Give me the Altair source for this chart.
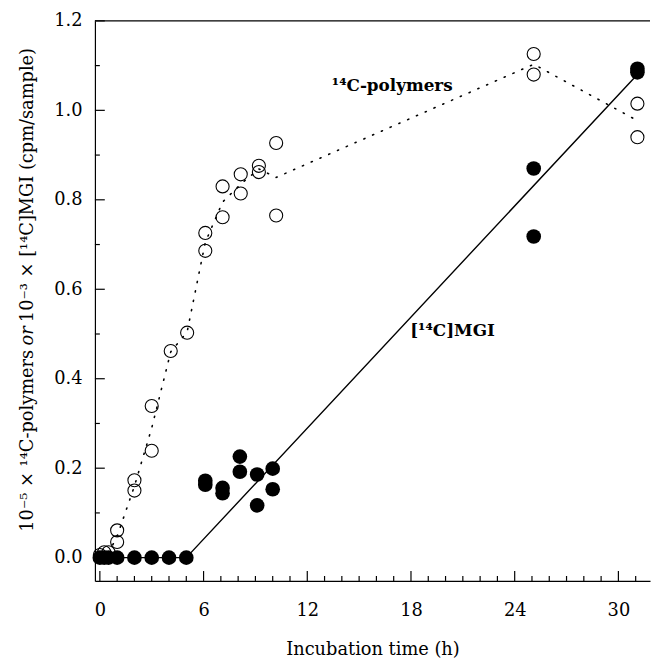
import altair as alt
import pandas as pd

# ---------------- data ----------------
poly_x = [0, 0.25, 0.5, 1, 1, 2, 2, 3, 3, 4.1, 5.05, 6.1, 6.1, 7.1, 7.1,
          8.15, 8.15, 9.2, 9.2, 10.2, 10.2, 25.1, 25.1, 31.1, 31.1]
poly_y = [0.006, 0.012, 0.012, 0.061, 0.035, 0.173, 0.150, 0.339, 0.239, 0.462,
          0.503, 0.726, 0.686, 0.830, 0.761, 0.857, 0.814, 0.876, 0.862,
          0.927, 0.765, 1.126, 1.080, 1.015, 0.940]

mgi_x = [0, 0.25, 0.5, 1, 2, 3, 4, 5, 6.1, 6.1, 7.1, 7.1, 8.1, 8.1, 9.1, 9.1,
         10.0, 10.0, 25.1, 25.1, 31.1, 31.1]
mgi_y = [0, 0, 0, 0, 0, 0, 0, 0, 0.172, 0.163, 0.156, 0.144, 0.226, 0.192,
         0.186, 0.117, 0.199, 0.153, 0.870, 0.718, 1.085, 1.093]

poly_fit_x = [0, 0.5, 1, 2, 3, 4.1, 5.05, 6.1, 7.1, 8.15, 9.2, 10.2, 25.1, 31.1]
poly_fit_y = [0.0, 0.01, 0.048, 0.16, 0.29, 0.46, 0.505, 0.705, 0.795, 0.835,
              0.869, 0.850, 1.103, 0.977]

mgi_fit_x = [0, 5, 31.1]
mgi_fit_y = [0, 0, 1.08]

x_major = [0, 6, 12, 18, 24, 30]
x_minor = [h for h in range(1, 32) if h % 6 != 0]
y_major = [0.0, 0.2, 0.4, 0.6, 0.8, 1.0, 1.2]
y_minor = [0.1, 0.3, 0.5, 0.7, 0.9, 1.1]

x_title = "Incubation time (h)"
y_title_a = "10⁻⁵ × ¹⁴C-polymers"
y_title_or = "or"
y_title_b = "10⁻³ × [¹⁴C]MGI (cpm/sample)"
label_poly = "¹⁴C-polymers"
label_mgi = "[¹⁴C]MGI"

# ---------------- layout ----------------
W, H = 562, 567
FONT = "DejaVu Serif"

xs = alt.Scale(domain=[-0.286, 31.83], nice=False, zero=False)
ys = alt.Scale(domain=[-0.052, 1.2], nice=False, zero=False)

xaxis = alt.Axis(values=x_major, tickSize=0, labelPadding=21, grid=False,
                 title=x_title, titlePadding=22, titleFontSize=18,
                 titleFontWeight="normal", titleFont=FONT, labelFont=FONT,
                 labelFontSize=18, labelColor="black", titleColor="black",
                 domainColor="black", domainWidth=1.2)
yaxis = alt.Axis(values=y_major, format=".1f", tickSize=0, labelPadding=13,
                 grid=False, title=None, labelFont=FONT, labelFontSize=18,
                 labelColor="black", domainColor="black", domainWidth=1.2)

poly_df = pd.DataFrame({"x": poly_x, "y": poly_y})
mgi_df = pd.DataFrame({"x": mgi_x, "y": mgi_y})
pfit_df = pd.DataFrame({"x": poly_fit_x, "y": poly_fit_y})
mfit_df = pd.DataFrame({"x": mgi_fit_x, "y": mgi_fit_y})

X = alt.X("x:Q", scale=xs, axis=xaxis)
Y = alt.Y("y:Q", scale=ys, axis=yaxis)

pfit = alt.Chart(pfit_df).mark_line(color="black", strokeWidth=1.6,
                                    strokeDash=[1.2, 8.5], strokeCap="round").encode(x=X, y=Y)
mfit = alt.Chart(mfit_df).mark_line(color="black", strokeWidth=1.4).encode(x=X, y=Y)
pts_open = alt.Chart(poly_df).mark_point(shape="circle", size=175, filled=False,
                                         color="black", strokeWidth=1.1,
                                         opacity=1).encode(x=X, y=Y)
pts_fill = alt.Chart(mgi_df).mark_point(shape="circle", size=220, filled=True,
                                        color="black", opacity=1).encode(x=X, y=Y)

xmaj_df = pd.DataFrame({"x": x_major})
xmin_df = pd.DataFrame({"x": x_minor})
ymaj_df = pd.DataFrame({"y": y_major})
ymin_df = pd.DataFrame({"y": y_minor})

tx_major = alt.Chart(xmaj_df).mark_rule(color="black", strokeWidth=1.2).encode(
    x=alt.X("x:Q", scale=xs), y=alt.value(H), y2=alt.value(H - 10))
tx_minor = alt.Chart(xmin_df).mark_rule(color="black", strokeWidth=1.2).encode(
    x=alt.X("x:Q", scale=xs), y=alt.value(H), y2=alt.value(H - 5))
ty_major = alt.Chart(ymaj_df).mark_rule(color="black", strokeWidth=1.2).encode(
    y=alt.Y("y:Q", scale=ys), x=alt.value(0), x2=alt.value(10))
ty_minor = alt.Chart(ymin_df).mark_rule(color="black", strokeWidth=1.2).encode(
    y=alt.Y("y:Q", scale=ys), x=alt.value(0), x2=alt.value(5))

top_df = pd.DataFrame({"k": [0]})
top_line = alt.Chart(top_df).mark_rule(color="black", strokeWidth=1.2).encode(
    x=alt.value(0), x2=alt.value(W), y=alt.value(0))


def txt(s, x, y, **kw):
    return alt.Chart(pd.DataFrame({"t": [s]})).mark_text(
        font=FONT, color="black", **kw).encode(
        text="t:N", x=alt.value(x), y=alt.value(y))


lab_poly = txt(label_poly, 301, 66, fontSize=17, fontWeight="bold",
               align="center", baseline="middle")
lab_mgi = txt(label_mgi, 362, 314, fontSize=17, fontWeight="bold",
              align="center", baseline="middle")

YT_X = -68
OR_Y = 319
yt_a = txt(y_title_a, YT_X, OR_Y + 14, fontSize=18, angle=270,
           align="right", baseline="middle")
yt_or = txt(y_title_or, YT_X, OR_Y, fontSize=18, angle=270, fontStyle="italic",
            align="center", baseline="middle")
yt_b = txt(y_title_b, YT_X, OR_Y - 14, fontSize=18, angle=270,
           align="left", baseline="middle")

chart = alt.layer(
    pfit, mfit, pts_open, pts_fill,
    tx_major, tx_minor, ty_major, ty_minor, top_line,
    lab_poly, lab_mgi, yt_a, yt_or, yt_b,
).properties(
    width=W, height=H,
    autosize=alt.AutoSizeParams(type="none"),
    padding={"left": 88, "top": 9, "right": 2, "bottom": 74},
).configure_view(stroke=None)

chart.save("out.html", embed_options={"renderer": "svg", "actions": False})
